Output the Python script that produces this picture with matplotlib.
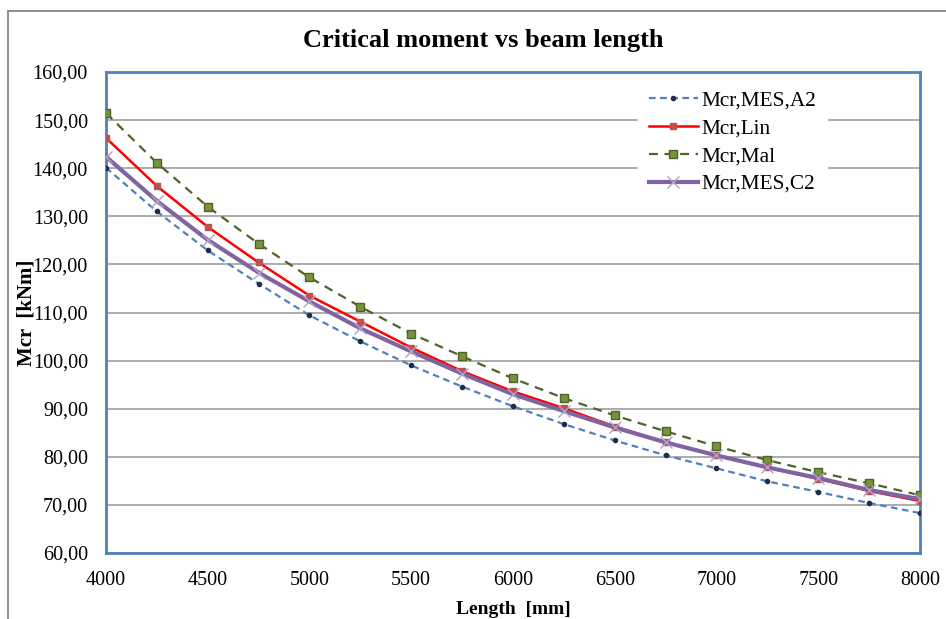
import matplotlib
matplotlib.use("Agg")
import matplotlib.pyplot as plt
from matplotlib.patches import Rectangle

length = [4000, 4250, 4500, 4750, 5000, 5250, 5500, 5750, 6000,
          6250, 6500, 6750, 7000, 7250, 7500, 7750, 8000]
mcr_mes_a2 = [140.1, 131.0, 122.9, 116.0, 109.4, 104.0, 99.0, 94.6, 90.5,
              86.8, 83.4, 80.3, 77.6, 74.9, 72.7, 70.4, 68.3]
mcr_lin = [146.3, 136.3, 127.8, 120.4, 113.5, 108.1, 102.7, 97.8, 93.6,
           90.1, 86.3, 83.0, 80.3, 77.8, 75.4, 72.9, 70.8]
mcr_mal = [151.5, 141.1, 132.0, 124.3, 117.3, 111.2, 105.6, 100.9, 96.3,
           92.2, 88.6, 85.3, 82.2, 79.3, 76.8, 74.5, 72.0]
mcr_mes_c2 = [142.4, 133.2, 125.1, 118.3, 112.3, 106.7, 101.9, 97.3, 93.0,
              89.5, 86.1, 83.0, 80.3, 77.8, 75.6, 73.1, 71.2]
y_ticks = [60, 70, 80, 90, 100, 110, 120, 130, 140, 150, 160]
x_ticks = [4000, 4500, 5000, 5500, 6000, 6500, 7000, 7500, 8000]

plt.rcParams['font.family'] = ['Liberation Serif', 'DejaVu Serif']

fig = plt.figure(figsize=(9.46, 6.19), dpi=100)
ax = fig.add_axes([0.112, 0.1066, 0.8605, 0.7771])

# outer chart border
fig.patches.append(Rectangle((8 / 946, -0.05), 1.0, 0.05 + (619 - 11) / 619,
                             transform=fig.transFigure, fill=False,
                             edgecolor='#868686', linewidth=1.3))

ax.plot(length, mcr_mes_a2, color='#4F81BD', linestyle=(0, (3, 2)), linewidth=1.6,
        marker='o', markersize=3, markerfacecolor='#1F2D4A', markeredgecolor='#1F2D4A',
        label='Mcr,MES,A2', zorder=3)
ax.plot(length, mcr_lin, color='#FF0000', linewidth=1.8,
        marker='s', markersize=4, markerfacecolor='#C0504D', markeredgecolor='#C0504D',
        label='Mcr,Lin', zorder=4)
ax.plot(length, mcr_mal, color='#4F6228', linestyle=(0, (4, 3)), linewidth=1.6,
        marker='s', markersize=5.5, markerfacecolor='#77933C', markeredgecolor='#4F6228',
        label='Mcr,Mal', zorder=3)
ax.plot(length, mcr_mes_c2, color='#8064A2', linewidth=3,
        marker='x', markersize=9, markeredgecolor='#B3A2C7', markeredgewidth=1,
        label='Mcr,MES,C2', zorder=5)

ax.set_xlim(4000, 8000)
ax.set_ylim(60, 160)
ax.set_xticks(x_ticks)
ax.set_yticks(y_ticks)
ax.set_yticklabels([f"{v:.2f}".replace('.', ',') for v in y_ticks])
ax.tick_params(length=0, labelsize=14.5, pad=13)
ax.grid(axis='y', color='#A6A6A6', linewidth=1.3)
ax.set_axisbelow(True)
for s in ax.spines.values():
    s.set_color('#4F81BD')
    s.set_linewidth(2)

ax.set_title('Critical moment vs beam length', fontsize=19, fontweight='bold',
             pad=18, x=0.463)
ax.set_xlabel('Length  [mm]', fontsize=14, fontweight='bold', labelpad=8)
ax.set_ylabel('Mcr  [kNm]', fontsize=15, fontweight='bold')
ax.yaxis.set_label_coords(-0.085, 0.5)

leg = ax.legend(loc='upper right', bbox_to_anchor=(0.886, 0.984), fontsize=15.3,
                frameon=True, fancybox=False, handlelength=2.3, labelspacing=0.38,
                handletextpad=0.2, borderpad=0.5, borderaxespad=0)
leg.get_frame().set_facecolor('white')
leg.get_frame().set_edgecolor('white')
leg.get_frame().set_alpha(1)

fig.savefig('out.png', dpi=100)
